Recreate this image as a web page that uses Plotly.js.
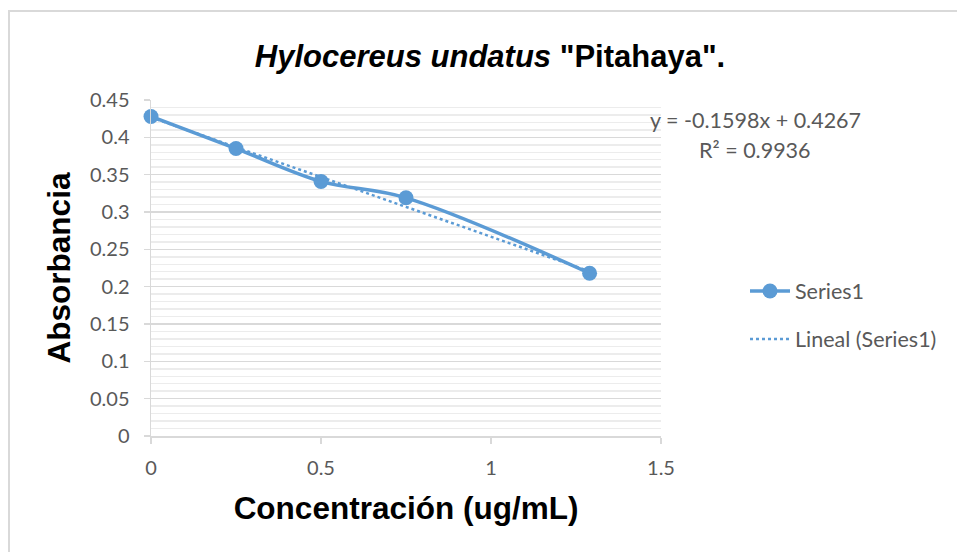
<!DOCTYPE html>
<html>
<head>
<meta charset="utf-8">
<script src="https://cdn.plot.ly/plotly-3.0.1.min.js"></script>
<style>
  html, body { margin: 0; padding: 0; background: #ffffff; overflow: hidden; }
  #frame { position: absolute; left: 8px; top: 10px; width: 980px; height: 580px; border: 2px solid #d9d9d9; box-sizing: border-box; }
  #chart { position: absolute; left: 0; top: 0; width: 957px; height: 552px; }
</style>
</head>
<body>
<div id="frame"></div>
<div id="chart"></div>
<script>
// ---- data ----
const concentration = [0, 0.25, 0.5, 0.75, 1.29];
const absorbance = [0.428, 0.385, 0.341, 0.319, 0.218];
const seriesName = "Series1";
const trendName = "Lineal (Series1)";
const trendSlope = -0.1598;
const trendIntercept = 0.4267;
const rSquared = 0.9936;
const xTickVals = [0, 0.5, 1, 1.5];
const xTickText = ["0", "0.5", "1", "1.5"];
const yTickVals = [0, 0.05, 0.1, 0.15, 0.2, 0.25, 0.3, 0.35, 0.4, 0.45];
const yTickText = ["0", "0.05", "0.1", "0.15", "0.2", "0.25", "0.3", "0.35", "0.4", "0.45"];
const titleText = '<b><i>Hylocereus undatus</i> "Pitahaya".</b>';
const xTitleText = '<b>Concentración (ug/mL)</b>';
const yTitleText = '<b>Absorbancia</b>';

// trendline drawn over the data range from the displayed equation
const trendX = [Math.min(...concentration), Math.max(...concentration)];
const trendY = trendX.map(x => trendSlope * x + trendIntercept);

const blue = '#5b9bd5';
const grey = '#595959';
const tickFont = { family: 'Lato, "Open Sans", sans-serif', size: 20, color: grey };
const textFont = { family: 'Lato, "Open Sans", sans-serif', size: 21.5, color: grey };
const boldFont = { family: '"Liberation Sans", Arial, sans-serif', size: 31.5, color: '#000000' };

const traces = [
  {
    x: concentration, y: absorbance, name: seriesName, type: 'scatter', mode: 'lines+markers',
    line: { color: blue, width: 3.5, shape: 'spline', smoothing: 1 },
    marker: { color: blue, size: 15 },
    legendgroup: 'a', cliponaxis: false
  },
  {
    x: trendX, y: trendY, name: trendName, type: 'scatter', mode: 'lines',
    line: { color: blue, width: 2.5, dash: 'dot' },
    legendgroup: 'b'
  }
];

const layout = {
  width: 957, height: 552,
  margin: { l: 151, r: 296, t: 100, b: 116 },
  paper_bgcolor: 'rgba(0,0,0,0)', plot_bgcolor: 'rgba(0,0,0,0)',
  title: {
    text: titleText, font: { family: '"Liberation Sans", Arial, sans-serif', size: 31, color: '#000000' },
    xref: 'container', x: 490 / 957, xanchor: 'center',
    yref: 'container', y: 1 - 56 / 552, yanchor: 'middle'
  },
  xaxis: {
    range: [0, 1.5], tickmode: 'array', tickvals: xTickVals, ticktext: xTickText,
    showgrid: false, zeroline: false, showline: true, linecolor: '#d9d9d9', linewidth: 1.5,
    ticks: 'outside', ticklen: 6, tickcolor: '#d9d9d9', tickwidth: 1.5, tickfont: tickFont,
    ticklabelstandoff: 7,
    title: { text: xTitleText, font: boldFont, standoff: 19 }, automargin: false
  },
  yaxis: {
    range: [0, 0.45], tickmode: 'array', tickvals: yTickVals, ticktext: yTickText,
    showgrid: true, gridcolor: '#d9d9d9', gridwidth: 1.5,
    minor: { dtick: 0.01, showgrid: true, gridcolor: '#ececec', gridwidth: 1.5, ticks: '' },
    zeroline: false, showline: true, linecolor: '#d9d9d9', linewidth: 1.5,
    ticks: 'outside', ticklen: 6, tickcolor: '#d9d9d9', tickwidth: 1.5, tickfont: tickFont,
    ticklabelstandoff: 10,
    title: { text: yTitleText, font: boldFont, standoff: 10 }, automargin: false
  },
  showlegend: true,
  legend: {
    x: (745 - 151) / 510, xanchor: 'left', y: (436 - 315) / 336, yanchor: 'middle',
    font: textFont,
    bgcolor: 'rgba(0,0,0,0)', tracegroupgap: 17, itemwidth: 40
  },
  annotations: [
    {
      xref: 'paper', yref: 'paper', x: (755 - 151) / 510, y: (436 - 120) / 336,
      xanchor: 'center', yanchor: 'middle', showarrow: false,
      text: 'y = ' + trendSlope.toFixed(4) + 'x + ' + trendIntercept.toFixed(4),
      font: textFont
    },
    {
      xref: 'paper', yref: 'paper', x: (755 - 151) / 510, y: (436 - 150) / 336,
      xanchor: 'center', yanchor: 'middle', showarrow: false,
      text: 'R² = ' + rSquared.toFixed(4),
      font: textFont
    }
  ]
};

Plotly.newPlot('chart', traces, layout, { displayModeBar: false, staticPlot: true });
</script>
</body>
</html>
